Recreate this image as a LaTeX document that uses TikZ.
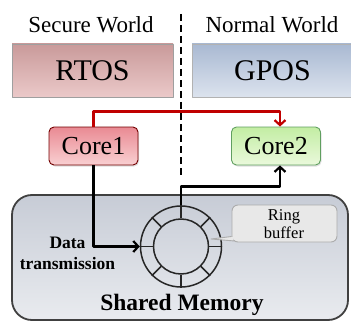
\documentclass[tikz,border=0pt]{standalone}
\usepackage{fontspec}
\setmainfont{Liberation Serif}
\usetikzlibrary{arrows.meta,shadows}
\definecolor{rtosTop}{HTML}{C99A9A}
\definecolor{rtosBot}{HTML}{EBC9C9}
\definecolor{gposTop}{HTML}{A9B9D2}
\definecolor{gposBot}{HTML}{DCE3EE}
\definecolor{coreRedTop}{HTML}{E98A93}
\definecolor{coreRedBot}{HTML}{F9D0D2}
\definecolor{coreGrnTop}{HTML}{C3EDA3}
\definecolor{coreGrnBot}{HTML}{EAF9DC}
\definecolor{memTop}{HTML}{C7CCD6}
\definecolor{memBot}{HTML}{E9EBEF}
\definecolor{linkRed}{HTML}{C00000}
\begin{document}
\begin{tikzpicture}[x=1pt,y=-1pt,line join=round,
  worldlabel/.style={inner sep=0pt,font=\fontsize{23}{25}\selectfont},
  osbox/.style={draw=gray!75,line width=0.8pt,minimum width=161pt,minimum height=53pt,
    inner sep=0pt,font=\fontsize{30}{30}\selectfont},
  corebox/.style={rounded corners=5pt,line width=0.9pt,minimum width=89pt,minimum height=38pt,
    inner sep=0pt,font=\fontsize{26}{26}\selectfont,
    drop shadow={shadow xshift=1pt,shadow yshift=-1.5pt,opacity=0.25}},
  flow/.style={line width=2.6pt,-{Straight Barb[length=5pt,width=11pt,line width=2.2pt]}},
  redflow/.style={flow,draw=linkRed},
  ringline/.style={line width=1.5pt,draw=black!85},
  boldlabel/.style={inner sep=0pt,font=\bfseries\fontsize{17.5}{21}\selectfont,align=center}]
\useasboundingbox (0,0) rectangle (351,321);

% world labels and the dashed boundary between them
\node[worldlabel] (secure) at (91,25) {Secure World};
\node[worldlabel] (normal) at (272,25) {Normal World};
\coordinate (divtop) at (181,14);
\coordinate (divbot) at (181,177);
\draw[line width=2.3pt,dash pattern=on 7pt off 4pt] (divtop) -- (divbot);

% operating systems
\node[osbox,top color=rtosTop,bottom color=rtosBot] (rtos) at (92.5,70.5) {RTOS};
\node[osbox,draw=gray!60,top color=gposTop,bottom color=gposBot] (gpos) at (272.5,70.5) {GPOS};

% shared memory region
\node[draw=black!75,line width=1.8pt,rounded corners=20pt,minimum width=336pt,minimum height=125pt,
  top color=memTop,bottom color=memBot] (shm) at (180,257.5) {};
\node[inner sep=0pt,font=\bfseries\fontsize{23.5}{25}\selectfont] (shmlabel) at (182,305) {Shared Memory};

% cores
\node[corebox,draw=red!45!black,top color=coreRedTop,bottom color=coreRedBot] (core1) at (93.5,146) {Core1};
\node[corebox,draw=green!25!gray,top color=coreGrnTop,bottom color=coreGrnBot] (core2) at (276,146) {Core2};

% ring buffer
\node[circle,ringline,minimum size=81pt,inner sep=0pt] (ring) at (181,246.5) {};
\node[circle,ringline,minimum size=55pt,inner sep=0pt] (hub) at (181,246.5) {};
\foreach \a in {0,45,...,315} \draw[ringline] (hub.\a) -- (ring.\a);

% ring buffer callout
\node[draw=gray!65,line width=0.9pt,fill=black!9,rounded corners=6pt,minimum width=105pt,
  minimum height=37pt,inner sep=0pt] (rbbox) at (284.5,223.5) {};
\coordinate (tip) at (211,239);
\fill[black!9] ([yshift=-13pt]rbbox.west) -- (tip) -- ([xshift=2pt,yshift=-17pt]rbbox.west) -- ([xshift=2pt,yshift=-13pt]rbbox.west) -- cycle;
\draw[draw=gray!65,line width=0.9pt] ([yshift=-13pt]rbbox.west) -- (tip) -- ([xshift=3pt,yshift=-17.5pt]rbbox.west);
\node[inner sep=0pt,font=\fontsize{16.5}{18}\selectfont,align=center] (rblabel) at (284,224) {Ring\\buffer};

% data paths
\node[boldlabel] (datalabel) at (67.5,253) {Data\\transmission};
\draw[flow] (core1.south) -- (core1.south |- ring.west) -- (ring.west);
\draw[flow] (ring.north) -- ++(0,-19) -| ([xshift=4pt]core2.south);
\draw[redflow] (core1.north) -- ++(0,-15) -| ([xshift=4pt]core2.north);
\end{tikzpicture}
\end{document}
